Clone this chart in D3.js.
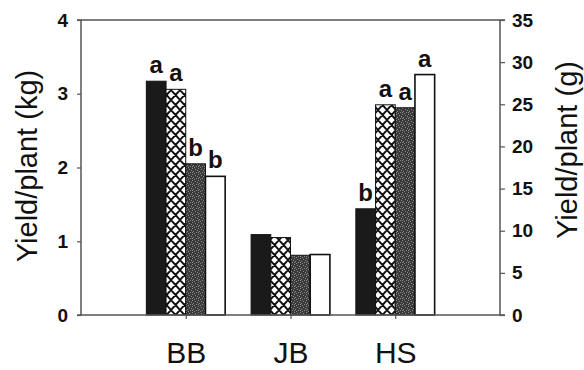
<!DOCTYPE html>
<html>
<head>
<meta charset="utf-8">
<script src="https://cdn.jsdelivr.net/npm/d3@7"></script>
<style>
  html, body { margin: 0; padding: 0; background: #fff; }
  svg { display: block; }
  text { font-family: Arial, "Liberation Sans", sans-serif; fill: #111; }
</style>
</head>
<body>
<svg id="chart" width="584" height="370"></svg>
<script>
// ---- data ----
const categories = ["BB", "JB", "HS"];
const seriesNames = ["s1", "s2", "s3", "s4"];
const valuesS1 = [3.17, 1.09, 1.44];
const valuesS2 = [3.06, 1.05, 2.85];
const valuesS3 = [2.05, 0.81, 2.81];
const valuesS4 = [1.88, 0.82, 3.26];
const lettersS1 = ["a", "", "b"];
const lettersS2 = ["a", "", "a"];
const lettersS3 = ["b", "", "a"];
const lettersS4 = ["b", "", "a"];
const leftTicks = [0, 1, 2, 3, 4];
const rightTicks = [0, 5, 10, 15, 20, 25, 30, 35];

const allValues = [valuesS1, valuesS2, valuesS3, valuesS4];
const allLetters = [lettersS1, lettersS2, lettersS3, lettersS4];

const svg = d3.select("#chart");
const pL = 81, pR = 500, pT = 20, pB = 315;

// patterns
const defs = svg.append("defs");
const hatch = defs.append("pattern").attr("id", "hatch")
  .attr("patternUnits", "userSpaceOnUse").attr("width", 9).attr("height", 10);
hatch.append("rect").attr("width", 9).attr("height", 10).attr("fill", "#fff");
hatch.append("path")
  .attr("d", "M0,0L9,10M9,0L0,10M-1,8.9L1,11.1M8,-1.1L10,1.1M-1,1.1L1,-1.1M8,11.1L10,8.9")
  .attr("stroke", "#111").attr("stroke-width", 1.9);

const stip = defs.append("pattern").attr("id", "stip")
  .attr("patternUnits", "userSpaceOnUse").attr("width", 6).attr("height", 6);
stip.append("rect").attr("width", 6).attr("height", 6).attr("fill", "#3a3a3a");
[[0,0],[3,1],[1,3],[4,4],[2,5],[5,2],[0,4]].forEach(([x,y]) =>
  stip.append("rect").attr("x", x).attr("y", y).attr("width", 1).attr("height", 1).attr("fill", "#8a8a8a"));

const fills = ["#1a1a1a", "url(#hatch)", "url(#stip)", "#fff"];

// scales
const x0 = d3.scalePoint().domain(categories).range([pL, pR]).padding(1);
const bw = 19.7;
const x1 = d3.scaleBand().domain(seriesNames).range([-2 * bw, 2 * bw]);
const yL = d3.scaleLinear().domain([0, 4]).range([pB, pT]);
const yR = d3.scaleLinear().domain([0, 35]).range([pB, pT]);

// bars
seriesNames.forEach((s, si) => {
  const g = svg.append("g");
  g.selectAll("rect").data(categories).join("rect")
    .attr("x", c => x0(c) + x1(s))
    .attr("y", (c, i) => yL(allValues[si][i]))
    .attr("width", x1.bandwidth())
    .attr("height", (c, i) => pB - yL(allValues[si][i]))
    .attr("fill", fills[si])
    .attr("stroke", "#111")
    .attr("stroke-width", si === 3 ? 1.6 : 1);
  g.selectAll("text").data(categories).join("text")
    .attr("x", c => x0(c) + x1(s) + x1.bandwidth() / 2)
    .attr("y", (c, i) => yL(allValues[si][i]) - 8)
    .attr("text-anchor", "middle")
    .attr("font-size", 24).attr("font-weight", "bold")
    .text((c, i) => allLetters[si][i]);
});

// axes
const axisColor = "#555";
const gl = svg.append("g").attr("transform", `translate(${pL},0)`)
  .call(d3.axisLeft(yL).tickValues(leftTicks).tickSize(4).tickPadding(9).tickFormat(d3.format("d")));
const gr = svg.append("g").attr("transform", `translate(${pR},0)`)
  .call(d3.axisRight(yR).tickValues(rightTicks).tickSize(5).tickPadding(7).tickFormat(d3.format("d")));
const gb = svg.append("g").attr("transform", `translate(0,${pB})`)
  .call(d3.axisBottom(x0).tickSize(4).tickPadding(23).tickSizeOuter(0));
[gl, gr, gb].forEach(g => {
  g.select(".domain").attr("stroke", axisColor).attr("stroke-width", 1.5);
  g.selectAll(".tick line").attr("stroke", axisColor).attr("stroke-width", 1.2);
});
gl.select(".domain").attr("d", `M-4,${pT}H0V${pB}H-4`);
gr.select(".domain").attr("d", `M5,${pT}H0V${pB}H5`);
gb.select(".domain").attr("d", `M${pL},0H${pR}`);
[gl, gr].forEach(g => g.selectAll(".tick text")
  .attr("font-size", 19).attr("font-weight", "bold").attr("fill", "#111")
  .attr("font-family", "Arial, 'Liberation Sans', sans-serif"));
gb.selectAll(".tick text").attr("font-size", 30).attr("fill", "#111")
  .attr("font-family", "Arial, 'Liberation Sans', sans-serif");

// top frame line
svg.append("line").attr("x1", pL).attr("x2", pR).attr("y1", pT).attr("y2", pT)
  .attr("stroke", axisColor).attr("stroke-width", 1.5);

// axis titles
svg.append("text").attr("transform", "translate(37,166) rotate(-90)")
  .attr("text-anchor", "middle").attr("font-size", 29).text("Yield/plant (kg)");
svg.append("text").attr("transform", "translate(577,150) rotate(-90)")
  .attr("text-anchor", "middle").attr("font-size", 29).text("Yield/plant (g)");
</script>
</body>
</html>
